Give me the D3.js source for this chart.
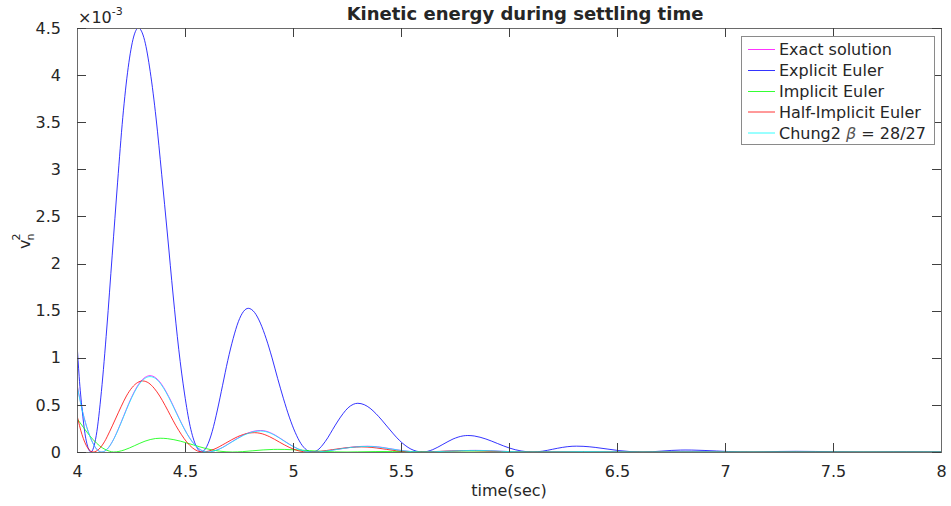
<!DOCTYPE html>
<html><head><meta charset="utf-8">
<script src="https://cdn.jsdelivr.net/npm/d3@7"></script>
<style>
body{margin:0;background:#fff;}
svg{display:block;}
text{font-family:"DejaVu Sans",sans-serif;fill:#262626;}
</style>
</head><body>
<svg id="chart" width="951" height="506"></svg>
<script>
// ---------- data (values of v_n^2 in units of 1e-3) ----------
const xTicks = [4, 4.5, 5, 5.5, 6, 6.5, 7, 7.5, 8];
const xTickLabels = ["4", "4.5", "5", "5.5", "6", "6.5", "7", "7.5", "8"];
const yTicks = [0, 0.5, 1, 1.5, 2, 2.5, 3, 3.5, 4, 4.5];
const yTickLabels = ["0", "0.5", "1", "1.5", "2", "2.5", "3", "3.5", "4", "4.5"];
const seriesNames = ["Exact solution", "Explicit Euler", "Implicit Euler", "Half-Implicit Euler", "Chung2"];
const seriesColors = ["#ff00ff", "#0000ff", "#00ff00", "#ff0000", "#00ffff"];

const exactSolution = [
 [4.000,0.72],[4.014,0.554],[4.039,0.314],[4.065,0.138],[4.090,0.033],[4.115,0],
 [4.140,0.031],[4.165,0.116],[4.190,0.237],[4.215,0.376],[4.240,0.516],[4.265,0.639],[4.290,0.735],[4.316,0.793],[4.338,0.810],
 [4.365,0.786],[4.389,0.727],[4.413,0.638],[4.437,0.531],[4.461,0.415],[4.485,0.300],[4.509,0.196],[4.533,0.111],[4.557,0.049],[4.581,0.012],[4.605,0],
 [4.660,0.0326],[4.715,0.1058],[4.770,0.1799],[4.825,0.2231],[4.850,0.228],[4.874,0.2214],[4.917,0.1796],[4.960,0.1167],[5.004,0.0552],[5.047,0.0137],[5.090,0],
 [5.147,0.0087],[5.205,0.0283],[5.262,0.0481],[5.319,0.0597],[5.345,0.061],[5.370,0.0592],[5.415,0.0481],[5.460,0.0312],[5.505,0.0148],[5.550,0.0037],[5.595,0],
 [5.651,0.0025],[5.707,0.0080],[5.763,0.0134],[5.820,0.0167],[5.845,0.0170],[5.870,0.0165],[5.915,0.0134],[5.960,0.0087],[6.005,0.0041],[6.050,0.0010],[6.095,0],
 [6.16,0.0007],[6.25,0.0029],[6.345,0.0048],[6.44,0.0031],[6.52,0.0009],[6.60,0],
 [6.70,0.0004],[6.85,0.0014],[7.00,0.0004],[7.10,0],[8.0,0]
];

const explicitEuler = [
 [4.000,1.16],[4.010,0.80],[4.024,0.444],[4.037,0.194],[4.051,0.048],[4.064,0],
 [4.089,0.174],[4.113,0.643],[4.138,1.316],[4.163,2.089],[4.188,2.864],[4.212,3.551],[4.237,4.080],[4.262,4.404],[4.284,4.500],
 [4.313,4.369],[4.339,4.037],[4.366,3.545],[4.392,2.948],[4.419,2.303],[4.445,1.666],[4.471,1.090],[4.498,0.616],[4.524,0.271],[4.551,0.066],[4.577,0],
 [4.601,0.059],[4.626,0.218],[4.650,0.446],[4.674,0.708],[4.698,0.971],[4.723,1.204],[4.747,1.383],[4.771,1.492],[4.793,1.525],
 [4.822,1.481],[4.849,1.368],[4.876,1.202],[4.903,0.999],[4.929,0.780],[4.956,0.565],[4.983,0.370],[5.010,0.209],[5.036,0.092],[5.063,0.022],[5.090,0],
 [5.114,0.020],[5.137,0.074],[5.161,0.151],[5.184,0.240],[5.208,0.329],[5.232,0.408],[5.255,0.469],[5.279,0.506],[5.300,0.517],
 [5.330,0.502],[5.357,0.464],[5.384,0.407],[5.411,0.339],[5.438,0.265],[5.465,0.192],[5.492,0.125],[5.519,0.071],[5.546,0.031],[5.573,0.008],[5.600,0],
 [5.647,0.025],[5.694,0.081],[5.741,0.138],[5.788,0.171],[5.809,0.175],[5.839,0.170],[5.893,0.138],[5.947,0.090],[6.002,0.042],[6.056,0.011],[6.110,0],
 [6.156,0.0089],[6.201,0.0288],[6.247,0.0489],[6.292,0.0607],[6.313,0.062],[6.343,0.0602],[6.399,0.0489],[6.454,0.0317],[6.509,0.0150],[6.565,0.0037],[6.620,0],
 [6.664,0.0030],[6.708,0.0097],[6.751,0.0166],[6.795,0.0205],[6.815,0.021],[6.846,0.0204],[6.903,0.0165],[6.960,0.0107],[7.016,0.0051],[7.073,0.0013],[7.130,0],
 [7.18,0.0017],[7.25,0.0055],[7.33,0.007],[7.42,0.0055],[7.52,0.0025],[7.64,0],
 [7.70,0.0008],[7.78,0.0021],[7.84,0.0024],[7.92,0.0019],[8.0,0.0011]
];

const implicitEuler = [
 [4.000,0.355],[4.030,0.26],[4.060,0.17],[4.090,0.095],[4.120,0.040],[4.150,0.009],[4.170,0],
 [4.218,0.0209],[4.267,0.0677],[4.315,0.1152],[4.363,0.1429],[4.385,0.146],[4.418,0.1418],[4.479,0.1150],[4.539,0.0748],[4.599,0.0354],[4.660,0.0088],[4.720,0],
 [4.767,0.0040],[4.814,0.0130],[4.862,0.0221],[4.909,0.0274],[4.930,0.028],[4.962,0.0272],[5.019,0.0221],[5.077,0.0143],[5.135,0.0068],[5.192,0.0017],[5.250,0],
 [5.30,0.0015],[5.38,0.0045],[5.46,0.006],[5.56,0.0045],[5.66,0.0018],[5.78,0],
 [5.88,0.0006],[6.00,0.0013],[6.12,0.0006],[6.25,0],[8.0,0]
];

const halfImplicitEuler = [
 [4.000,0.39],[4.023,0.186],[4.049,0.045],[4.075,0],
 [4.101,0.029],[4.127,0.108],[4.152,0.221],[4.178,0.350],[4.204,0.480],[4.229,0.595],[4.255,0.684],[4.281,0.738],[4.304,0.754],
 [4.332,0.732],[4.357,0.677],[4.383,0.594],[4.408,0.494],[4.433,0.386],[4.458,0.279],[4.484,0.183],[4.509,0.103],[4.534,0.045],[4.558,0.011],[4.582,0],
 [4.634,0.029],[4.689,0.095],[4.743,0.162],[4.798,0.201],[4.822,0.205],[4.847,0.199],[4.892,0.162],[4.937,0.105],[4.982,0.050],[5.027,0.012],[5.072,0],
 [5.127,0.0077],[5.183,0.0251],[5.238,0.0426],[5.293,0.0529],[5.318,0.054],[5.343,0.0524],[5.388,0.0425],[5.434,0.0276],[5.479,0.0131],[5.525,0.0032],[5.570,0],
 [5.625,0.0021],[5.680,0.0067],[5.735,0.0114],[5.790,0.0142],[5.815,0.0145],[5.840,0.0141],[5.885,0.0114],[5.930,0.0074],[5.975,0.0035],[6.020,0.0009],[6.065,0],
 [6.13,0.0006],[6.20,0.0020],[6.31,0.0040],[6.42,0.0020],[6.50,0.0006],[6.56,0],
 [6.68,0.0005],[6.80,0.0010],[6.92,0.0005],[7.05,0],[8.0,0]
];

const chung2 = [
 [4.000,0.71],[4.014,0.547],[4.039,0.310],[4.065,0.136],[4.090,0.033],[4.115,0],
 [4.140,0.031],[4.165,0.114],[4.190,0.234],[4.215,0.371],[4.240,0.509],[4.265,0.631],[4.290,0.725],[4.316,0.783],[4.338,0.800],
 [4.365,0.777],[4.389,0.718],[4.413,0.630],[4.437,0.524],[4.461,0.409],[4.485,0.296],[4.509,0.194],[4.533,0.110],[4.557,0.048],[4.581,0.012],[4.605,0],
 [4.660,0.0319],[4.715,0.1035],[4.770,0.1760],[4.825,0.2183],[4.850,0.223],[4.874,0.2165],[4.917,0.1757],[4.960,0.1141],[5.004,0.0540],[5.047,0.0134],[5.090,0],
 [5.147,0.0084],[5.205,0.0274],[5.262,0.0466],[5.319,0.0578],[5.345,0.059],[5.370,0.0573],[5.415,0.0465],[5.460,0.0302],[5.505,0.0143],[5.550,0.0035],[5.595,0],
 [5.651,0.0024],[5.707,0.0077],[5.763,0.0130],[5.820,0.0162],[5.845,0.0165],[5.870,0.0160],[5.915,0.0130],[5.960,0.0084],[6.005,0.0040],[6.050,0.0010],[6.095,0],
 [6.16,0.0007],[6.25,0.0028],[6.345,0.0046],[6.44,0.0030],[6.52,0.0009],[6.60,0],
 [6.70,0.0004],[6.85,0.0013],[7.00,0.0004],[7.10,0],[8.0,0]
];

const seriesData = [exactSolution, explicitEuler, implicitEuler, halfImplicitEuler, chung2];

// ---------- layout ----------
const L = 77, R = 941, T = 28, B = 452;
const svg = d3.select("#chart");
const x = d3.scaleLinear().domain([4, 8]).range([L, R]);
const y = d3.scaleLinear().domain([0, 4.5]).range([B, T]);

svg.append("defs").append("clipPath").attr("id", "clip")
  .append("rect").attr("x", L).attr("y", T).attr("width", R - L).attr("height", B - T);

const line = d3.line().x(d => x(d[0])).y(d => y(d[1])).curve(d3.curveMonotoneX);
const plot = svg.append("g").attr("clip-path", "url(#clip)");
seriesData.forEach((data, i) => {
  plot.append("path").datum(data).attr("d", line)
    .attr("fill", "none").attr("stroke", seriesColors[i]).attr("stroke-width", 0.8);
});

// axes (MATLAB-style box with inward ticks)
const tickLen = 9;
const axColor = "#262626";
function styleAxis(g) {
  g.select(".domain").attr("stroke", "#6a6a6a");
  g.selectAll(".tick line").attr("stroke", "#404040");
  g.selectAll("text").attr("font-size", "16px").attr("fill", axColor).attr("font-family", "DejaVu Sans, sans-serif");
}
const xFmt = (d, i) => xTickLabels[i];
const yFmt = (d, i) => yTickLabels[i];
svg.append("g").attr("transform", `translate(0,${B})`)
  .call(d3.axisBottom(x).tickValues(xTicks).tickFormat(xFmt).tickSizeInner(-tickLen).tickSizeOuter(0).tickPadding(tickLen + 5))
  .call(styleAxis);
svg.append("g").attr("transform", `translate(0,${T})`)
  .call(d3.axisTop(x).tickValues(xTicks).tickFormat("").tickSizeInner(-tickLen).tickSizeOuter(0))
  .call(styleAxis);
svg.append("g").attr("transform", `translate(${L},0)`)
  .call(d3.axisLeft(y).tickValues(yTicks).tickFormat(yFmt).tickSizeInner(-tickLen).tickSizeOuter(0).tickPadding(tickLen + 7))
  .call(styleAxis);
svg.append("g").attr("transform", `translate(${R},0)`)
  .call(d3.axisRight(y).tickValues(yTicks).tickFormat("").tickSizeInner(-tickLen).tickSizeOuter(0))
  .call(styleAxis);
svg.selectAll(".domain, .tick line").attr("shape-rendering", "crispEdges");

// exponent label
const expT = svg.append("text").attr("x", 78).attr("y", 23).attr("font-size", "16px");
expT.append("tspan").text("\u00d710");
expT.append("tspan").attr("font-size", "11px").attr("dy", -8).text("-3");

// title
svg.append("text").attr("x", 525).attr("y", 20).attr("text-anchor", "middle")
  .attr("font-size", "18px").attr("font-weight", "bold").attr("fill", "#000").text("Kinetic energy during settling time");

// x label
svg.append("text").attr("x", (L + R) / 2).attr("y", 496).attr("text-anchor", "middle")
  .attr("font-size", "16px").text("time(sec)");

// y label v_n^2
const yl = svg.append("g").attr("transform", "translate(30,249) rotate(-90)");
yl.append("text").attr("x", 0).attr("y", 0).attr("font-size", "16px").text("v");
yl.append("text").attr("x", 8.5).attr("y", 4).attr("font-size", "11px").text("n");
yl.append("text").attr("x", 8.5).attr("y", -10).attr("font-size", "11px").text("2");

// legend
const lg = svg.append("g");
lg.append("rect").attr("x", 741.5).attr("y", 36.5).attr("width", 193).attr("height", 108)
  .attr("fill", "#fff").attr("stroke", "#8a8a8a").attr("stroke-width", 1);
const rowY = [49.5, 70.5, 91.5, 112, 133];
seriesNames.forEach((name, i) => {
  lg.append("line").attr("x1", 748).attr("x2", 775).attr("y1", rowY[i]).attr("y2", rowY[i])
    .attr("stroke", seriesColors[i]).attr("stroke-width", 0.8);
  const t = lg.append("text").attr("x", 779).attr("y", rowY[i]).attr("dy", "0.36em").attr("font-size", "16px").attr("fill", "#000");
  t.append("tspan").text(name);
  if (i === 4) {
    t.append("tspan").text(" ");
    t.append("tspan").attr("font-style", "italic").attr("fill", "#555").text("\u03b2");
    t.append("tspan").text(" = 28/27");
  }
});
</script>
</body></html>
